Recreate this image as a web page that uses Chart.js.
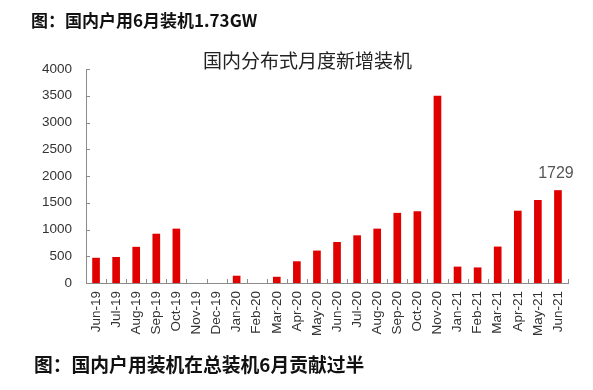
<!DOCTYPE html>
<html>
<head>
<meta charset="utf-8">
<script src="https://cdn.jsdelivr.net/npm/chart.js@4"></script>
<style>
    body { margin: 0; background: #fff; }
    #wrap { position: relative; width: 593px; height: 390px; }
    #chart { position: absolute; left: 0; top: 0; }
    .cap { position: absolute; font-family: "Noto Sans CJK SC", sans-serif; color: #111; white-space: nowrap; line-height: 1; }
    #head { left: 31px; top: 11px; font-size: 17px; font-weight: bold; }
    #foot { left: 34px; top: 355px; font-size: 18.8px; font-weight: bold; }
    #title { left: 203px; top: 50px; font-size: 19px; color: #222; }
</style>
</head>
<body>
<div id="wrap">
    <canvas id="chart" width="593" height="390"></canvas>
    <div class="cap" id="head">图：国内户用6月装机1.73GW</div>
    <div class="cap" id="title">国内分布式月度新增装机</div>
    <div class="cap" id="foot">图：国内户用装机在总装机6月贡献过半</div>
</div>
<script>
// Monatsdaten (MW)
const months = ['Jun-19', 'Jul-19', 'Aug-19', 'Sep-19', 'Oct-19', 'Nov-19', 'Dec-19', 'Jan-20',
    'Feb-20', 'Mar-20', 'Apr-20', 'May-20', 'Jun-20', 'Jul-20', 'Aug-20', 'Sep-20', 'Oct-20',
    'Nov-20', 'Jan-21', 'Feb-21', 'Mar-21', 'Apr-21', 'May-21', 'Jun-21'];
const installed = [465, 480, 670, 915, 1010, 0, 0, 130, 0, 110, 400, 600, 760, 885, 1010,
    1305, 1335, 3495, 300, 285, 675, 1345, 1545, 1729];
const yTicks = [0, 500, 1000, 1500, 2000, 2500, 3000, 3500, 4000];
const labelIndex = installed.length - 1; // nur der letzte Balken bekommt eine Zahl

const axisColor = '#8c8c8c';
const font = { family: 'Liberation Sans, Arial', size: 13.5 };

// kleine Striche nach innen (wie im Original)
const innerTicks = {
    id: 'innerTicks',
    afterDatasetsDraw(chart) {
        const ctx = chart.ctx;
        const x = chart.scales.x;
        const y = chart.scales.y;
        ctx.save();
        ctx.strokeStyle = axisColor;
        ctx.lineWidth = 1;
        ctx.beginPath();
        for (let i = 0; i <= months.length; i++) {
            const px = Math.round(x.getPixelForValue(i - 0.5)) + 0.5;
            ctx.moveTo(px, y.bottom);
            ctx.lineTo(px, y.bottom - 4);
        }
        yTicks.forEach((v) => {
            const py = Math.round(y.getPixelForValue(v)) + 0.5;
            ctx.moveTo(x.left, py);
            ctx.lineTo(x.left + 4, py);
        });
        ctx.stroke();
        ctx.restore();
    }
};

const valueLabel = {
    id: 'valueLabel',
    afterDatasetsDraw(chart) {
        const bar = chart.getDatasetMeta(0).data[labelIndex];
        const ctx = chart.ctx;
        ctx.save();
        ctx.font = '16px Liberation Sans, Arial';
        ctx.fillStyle = '#555';
        ctx.textAlign = 'center';
        ctx.textBaseline = 'bottom';
        ctx.fillText(String(installed[labelIndex]), bar.x - 2, bar.y - 9);
        ctx.restore();
    }
};

new Chart(document.getElementById('chart').getContext('2d'), {
    type: 'bar',
    data: {
        labels: months,
        datasets: [{
            data: installed,
            // leere Monate gar nicht zeichnen
            backgroundColor: (c) => (c.raw ? '#e00000' : 'rgba(0,0,0,0)'),
            barThickness: 7
        }]
    },
    plugins: [innerTicks, valueLabel],
    options: {
        responsive: false,
        animation: false,
        layout: { padding: { top: 69, right: 25, left: 0, bottom: 0 } },
        plugins: {
            legend: { display: false },
            tooltip: { enabled: false }
        },
        scales: {
            x: {
                grid: { display: false, drawTicks: false },
                border: { color: axisColor, width: 1 },
                ticks: {
                    color: '#333', font: font, padding: 8,
                    minRotation: 90, maxRotation: 90, autoSkip: false
                },
                afterFit: (s) => { s.height = 107; }
            },
            y: {
                min: 0, max: 4000,
                grid: { display: false, drawTicks: false },
                border: { color: axisColor, width: 1 },
                ticks: {
                    stepSize: 500, color: '#333', font: font, padding: 14,
                    callback: (v) => String(v)
                },
                afterFit: (s) => { s.width = 86; }
            }
        }
    }
});
</script>
</body>
</html>
